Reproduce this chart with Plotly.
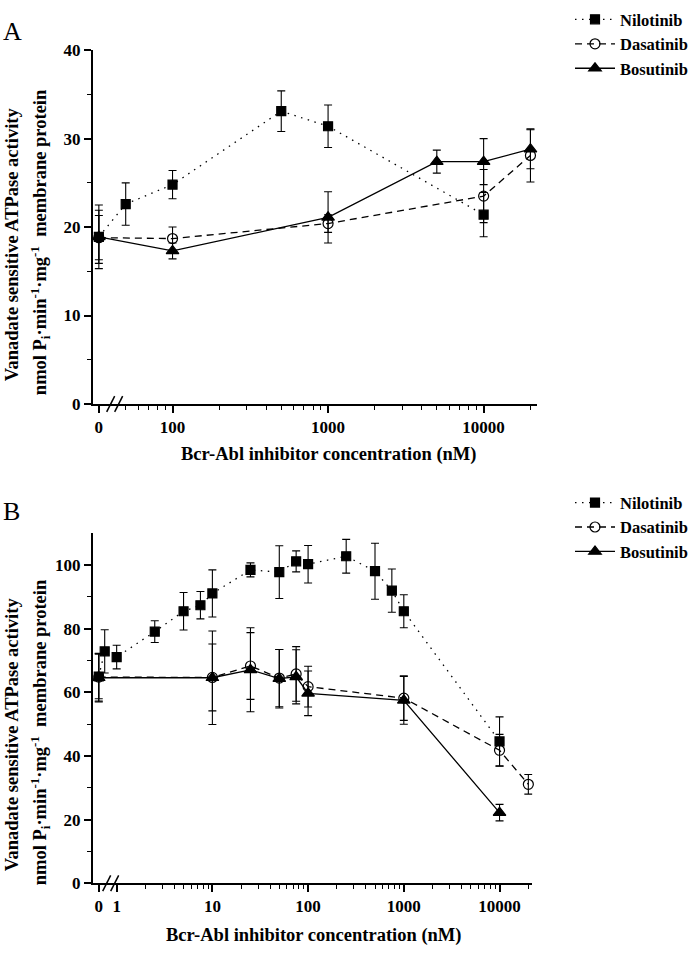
import plotly.graph_objects as go

# ---- data, panel A ----
conc_a_nil = [0, 50, 100, 500, 1000, 10000]
nil_a = [18.9, 22.6, 24.8, 33.1, 31.4, 21.4]
nil_a_err = [3.0, 2.4, 1.6, 2.3, 2.4, 2.5]

conc_a_das = [0, 100, 1000, 10000, 20000]
das_a = [18.8, 18.7, 20.4, 23.5, 28.1]
das_a_err = [2.5, 1.3, 1.0, 3.0, 3.0]

conc_a_bos = [0, 100, 1000, 5000, 10000, 20000]
bos_a = [18.9, 17.3, 21.1, 27.4, 27.4, 28.8]
bos_a_err = [3.6, 0.9, 2.9, 1.3, 2.6, 2.2]

# ---- data, panel B ----
conc_b_nil = [0, 0.75, 1, 2.5, 5, 7.5, 10, 25, 50, 75, 100, 250, 500, 750, 1000, 10000]
nil_b = [65.0, 72.9, 71.1, 79.1, 85.5, 87.4, 91.1, 98.5, 97.8, 101.2, 100.3, 102.8, 98.1, 92.0, 85.5, 44.6]
nil_b_err = [7.0, 6.8, 3.7, 3.4, 5.9, 4.3, 7.4, 2.2, 8.3, 3.3, 5.9, 5.3, 8.8, 6.8, 5.2, 7.7]

conc_b_das = [0, 10, 25, 50, 75, 100, 1000, 10000, 20000]
das_b = [64.8, 64.7, 68.3, 64.5, 65.8, 61.8, 58.2, 41.8, 31.1]
das_b_err = [7.5, 10.5, 10.5, 9.0, 8.6, 6.4, 7.0, 5.0, 3.1]

conc_b_bos = [0, 10, 25, 50, 75, 100, 1000, 10000]
bos_b = [64.6, 64.6, 67.1, 64.3, 64.9, 59.7, 57.5, 22.2]
bos_b_err = [7.6, 14.7, 13.2, 9.2, 8.5, 7.0, 7.5, 2.6]

tick_text_a = ['0', '100', '1000', '10000']
tick_text_b = ['0', '1', '10', '100', '1000', '10000']

# where "0" sits on the broken log axis
ZERO_A = 33.6
ZERO_B = 0.65

W, H = 693, 954
FONT = 'Liberation Serif'


def px(x):
    return x / W


def py(y):
    return 1 - y / H


def zero_to(conc, z):
    return [z if c == 0 else c for c in conc]


styles = {
    'Nilotinib': dict(dash='1.5px,5.5px', symbol='square', size=9),
    'Dasatinib': dict(dash='7px,5px', symbol='circle-open', size=10),
    'Bosutinib': dict(dash='solid', symbol='triangle-up', size=11),
}

fig = go.Figure()


def add_series(name, x, y, err, xaxis, yaxis, legend):
    s = styles[name]
    fig.add_trace(go.Scatter(
        x=x, y=y, name=name, mode='lines+markers',
        xaxis=xaxis, yaxis=yaxis, legend=legend,
        line=dict(color='black', width=1.3, dash=s['dash']),
        marker=dict(symbol=s['symbol'], size=s['size'], color='black',
                    line=dict(color='black', width=1.2)),
        error_y=dict(type='data', array=err, color='black', thickness=1.1, width=4),
        cliponaxis=False,
    ))


add_series('Nilotinib', zero_to(conc_a_nil, ZERO_A), nil_a, nil_a_err, 'x', 'y', 'legend')
add_series('Dasatinib', zero_to(conc_a_das, ZERO_A), das_a, das_a_err, 'x', 'y', 'legend')
add_series('Bosutinib', zero_to(conc_a_bos, ZERO_A), bos_a, bos_a_err, 'x', 'y', 'legend')

add_series('Nilotinib', zero_to(conc_b_nil, ZERO_B), nil_b, nil_b_err, 'x2', 'y2', 'legend2')
add_series('Dasatinib', zero_to(conc_b_das, ZERO_B), das_b, das_b_err, 'x2', 'y2', 'legend2')
add_series('Bosutinib', zero_to(conc_b_bos, ZERO_B), bos_b, bos_b_err, 'x2', 'y2', 'legend2')

tickfont = dict(family=FONT, size=17, color='black', weight='bold')
axis_common = dict(
    showline=True, linecolor='black', linewidth=1.6,
    ticks='outside', ticklen=7, tickwidth=1.5, tickcolor='black',
    showgrid=False, zeroline=False, tickfont=tickfont, fixedrange=True,
)
minor_style = dict(ticks='outside', ticklen=4, tickwidth=1.2, tickcolor='black')


def minor_log(decades, extra):
    vals = []
    for d in decades:
        vals += [k * d for k in range(2, 10)]
    return vals + extra


minor_a = [50, 60, 70, 80, 90] + minor_log([100, 1000], [20000])
minor_b = minor_log([1, 10, 100, 1000], [20000])

legend_font = dict(family=FONT, size=16.5, color='black', weight='bold')

fig.update_layout(
    width=W, height=H,
    margin=dict(l=0, r=0, t=0, b=0),
    paper_bgcolor='white', plot_bgcolor='white',
    font=dict(family=FONT, color='black'),
    xaxis=dict(axis_common, type='log', domain=[px(93), px(539)],
               range=[1.487, 4.346], anchor='y',
               tickmode='array', tickvals=[ZERO_A, 100, 1000, 10000], ticktext=tick_text_a,
               minor=dict(minor_style, tickvals=minor_a)),
    yaxis=dict(axis_common, domain=[py(403), py(42)], range=[0, 40], anchor='x',
               tickmode='array', tickvals=[0, 10, 20, 30, 40],
               minor=dict(minor_style, tickvals=[5, 15, 25, 35])),
    xaxis2=dict(axis_common, type='log', domain=[px(93), px(534)],
                range=[-0.25, 4.344], anchor='y2',
                tickmode='array', tickvals=[ZERO_B, 1, 10, 100, 1000, 10000], ticktext=tick_text_b,
                minor=dict(minor_style, tickvals=minor_b)),
    yaxis2=dict(axis_common, domain=[py(892), py(535)], range=[0, 110], anchor='x2',
                tickmode='array', tickvals=[0, 20, 40, 60, 80, 100],
                minor=dict(minor_style, tickvals=[10, 30, 50, 70, 90])),
    legend=dict(x=px(572), y=py(-7), xanchor='left', yanchor='top', itemwidth=40,
                font=legend_font, bgcolor='rgba(0,0,0,0)', tracegroupgap=0),
    legend2=dict(x=px(572), y=py(486), xanchor='left', yanchor='top', itemwidth=40,
                 font=legend_font, bgcolor='rgba(0,0,0,0)', tracegroupgap=0),
)

ytitle1 = 'Vanadate sensitive ATPase activity'
ytitle2 = 'nmol P<sub>i</sub>·min<sup>-1</sup>·mg<sup>-1</sup>  membrane protein'
xtitle = 'Bcr-Abl inhibitor concentration (nM)'
title_font = dict(family=FONT, size=18.5, color='black', weight='bold')

annotations = [
    dict(text='A', x=px(13), y=py(23), font=dict(family=FONT, size=26, color='black')),
    dict(text='B', x=px(12), y=py(513), font=dict(family=FONT, size=26, color='black')),
    dict(text=ytitle1, x=px(12), y=py(240), textangle=-90, font=title_font),
    dict(text=ytitle2, x=px(40), y=py(238), textangle=-90, font=title_font),
    dict(text=ytitle1, x=px(12), y=py(740), textangle=-90, font=title_font),
    dict(text=ytitle2, x=px(40), y=py(738), textangle=-90, font=title_font),
    dict(text=xtitle, x=px(329), y=py(455), font=title_font),
    dict(text=xtitle, x=px(314), y=py(945), font=title_font),
]
for a in annotations:
    a.update(xref='paper', yref='paper', showarrow=False, xanchor='center', yanchor='middle')
fig.update_layout(annotations=annotations)

# axis break marks "//"
shapes = []
for (x0, yb) in [(107, 403), (103, 892)]:
    for dx in (0, 8):
        shapes.append(dict(type='line', xref='paper', yref='paper',
                           x0=px(x0 + dx), y0=py(yb + 8), x1=px(x0 + dx + 8), y1=py(yb - 8),
                           line=dict(color='black', width=1.5)))
fig.update_layout(shapes=shapes)

# drop the default 8px page margin so the figure fills the window
fig.write_html("out.html", config={'displayModeBar': False},
               post_script="document.body.style.margin='0';")
